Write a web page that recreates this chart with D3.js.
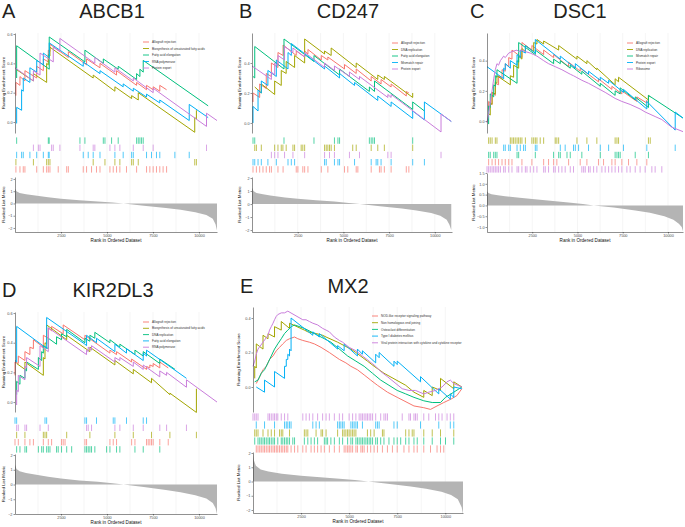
<!DOCTYPE html>
<html>
<head>
<meta charset="utf-8">
<script src="https://cdn.jsdelivr.net/npm/d3@7"></script>
<style>
  body { margin: 0; background: #fff; }
  svg { display: block; }
</style>
</head>
<body>
<div id="main"></div>
<script>
/*********************************************************
 * Data
 *********************************************************/

const setColors = ['#F8766D', '#A3A500', '#00BF7D', '#00B0F6', '#C97DDB'];
const xTickValues = [2500, 5000, 7500, 10000];

// ---------- A: ABCB1 ----------
const setsABCB1 = ['Allograft rejection', 'Biosynthesis of unsaturated fatty acids', 'Fatty acid elongation', 'RNA polymerase', 'Protein export'];
const esABCB1 = [
  [[50,0.18],[50,0.27],[270,0.25],[270,0.31],[540,0.28],[540,0.35],[1180,0.30],[1180,0.38],[1540,0.35],[1540,0.43],[1810,0.41],[1810,0.49],[1900,0.48],[1900,0.53],[2900,0.44],[2900,0.48],[3890,0.39],[3890,0.43],[4620,0.37],[4620,0.40],[5520,0.32],[5520,0.35],[6610,0.25],[6610,0.27],[7150,0.22],[7150,0.25],[7510,0.22],[7510,0.24],[7870,0.21],[7870,0.25],[8240,0.22]],
  [[50,0.36],[1000,0.28],[1000,0.33],[1720,0.27],[1720,0.40],[1810,0.39],[1810,0.46],[1900,0.45],[1900,0.51],[4250,0.30],[4250,0.32],[5430,0.21],[5430,0.24],[6340,0.16],[6340,0.18],[6700,0.15],[6700,0.20],[9770,-0.07],[9770,0.03],[9860,0.02],[9860,0.08]],
  [[90,0.30],[90,0.52],[1860,0.36],[1860,0.58],[3800,0.41],[3800,0.49],[4800,0.40],[4800,0.43],[5610,0.36],[5610,0.38],[6610,0.29],[6610,0.33],[6790,0.31],[6790,0.36],[6970,0.34],[6970,0.42],[10500,0.11]],
  [[90,-0.01],[90,0.10],[360,0.08],[360,0.22],[450,0.21],[450,0.30],[810,0.27],[810,0.37],[1180,0.34],[1180,0.42],[1540,0.39],[1540,0.47],[1860,0.44],[1860,0.54],[3710,0.38],[3710,0.41],[4620,0.33],[4620,0.35],[5880,0.24],[5880,0.26],[6430,0.21],[6430,0.23],[7150,0.17],[7150,0.19],[7870,0.13],[7870,0.15],[9470,0.01],[9470,0.12],[10500,0.03]],
  [[0,0.37],[1000,0.28],[1000,0.35],[1360,0.32],[1360,0.47],[2080,0.41],[2080,0.51],[2440,0.48],[2440,0.57],[4340,0.40],[4340,0.44],[5430,0.34],[5430,0.37],[6430,0.28],[6430,0.30],[7510,0.20],[7510,0.23],[10410,-0.03],[10410,0.06],[10980,0.01]]
];
const hitsABCB1 = [
  [50,270,450,540,1180,1540,1720,1810,1900,2350,2810,2900,3710,3890,4160,4430,4620,5160,5340,5520,5700,6060,6610,7150,7330,7510,7690,7870,8050,8240],
  [50,1000,1720,1810,1900,4250,4890,5430,5700,6340,6430,6700,9770,9860],
  [90,1810,1860,3530,3800,4800,4890,5250,5610,6610,6700,6790,6880,6970],
  [90,360,450,810,1180,1540,1810,1860,3710,3980,4250,4620,5430,5880,6340,6430,7150,7420,7690,7870,8690,9470],
  [1000,1270,1360,1990,2080,2440,3530,4250,4340,5160,5430,5700,6430,6970,7510,10410]
];
const rowsABCB1 = [2, 4, 3, 1, 0];
const metricABCB1 = [[0,1.2],[80,1.0],[250,0.85],[600,0.75],[1000,0.68],[1800,0.5],[2500,0.38],[3500,0.27],[4500,0.17],[5300,0.08],[5900,0],[7000,-0.18],[8200,-0.38],[9000,-0.52],[9800,-0.72],[10400,-0.95],[10750,-1.25],[10900,-1.7],[10980,-2.2]];

// ---------- B: CD247 ----------
const setsCD247 = ['Allograft rejection', 'DNA replication', 'Fatty acid elongation', 'Mismatch repair', 'Protein export'];
const esCD247 = [
  [[55,0.14],[55,0.20],[420,0.17],[420,0.26],[780,0.23],[780,0.33],[1060,0.31],[1060,0.40],[1420,0.37],[1420,0.47],[1700,0.45],[1700,0.52],[2420,0.45],[2420,0.48],[2880,0.44],[2880,0.48],[3060,0.46],[3060,0.49],[3790,0.42],[3790,0.45],[4150,0.42],[4150,0.44],[5060,0.36],[5060,0.39],[5700,0.33],[5700,0.36],[6520,0.28],[6520,0.31],[7060,0.26],[7060,0.29],[7610,0.24],[7610,0.26],[8440,0.18],[8440,0.21],[8580,0.20]],
  [[150,0.24],[510,0.20],[510,0.26],[1240,0.19],[1240,0.28],[1600,0.25],[1600,0.35],[1870,0.33],[1870,0.41],[2330,0.37],[2330,0.45],[2880,0.40],[2880,0.56],[3970,0.46],[3970,0.48],[4330,0.45],[4330,0.50],[5700,0.37],[5700,0.40],[6880,0.29],[6880,0.32],[7240,0.29],[7240,0.31],[8790,0.17],[8790,0.20]],
  [[55,0.31],[150,0.30],[150,0.51],[1750,0.36],[1750,0.56],[3390,0.41],[3390,0.45],[4790,0.32],[4790,0.36],[6420,0.21],[6420,0.24],[6700,0.21],[6700,0.28],[8790,0.09],[8790,0.14],[9430,0.08]],
  [[55,0.0],[55,0.11],[330,0.08],[330,0.22],[510,0.20],[510,0.28],[870,0.25],[870,0.35],[1330,0.31],[1330,0.42],[1970,0.36],[1970,0.47],[2150,0.45],[2150,0.53],[3970,0.36],[3970,0.38],[4790,0.30],[4790,0.33],[5610,0.25],[5610,0.27],[6880,0.15],[6880,0.18],[7610,0.11],[7610,0.14],[8790,0.03],[8790,0.08],[9430,0.02],[9430,0.14],[10900,0.01]],
  [[0,0.38],[1060,0.29],[1060,0.34],[1240,0.32],[1240,0.40],[1420,0.38],[1420,0.45],[1780,0.42],[1780,0.51],[2240,0.47],[2240,0.50],[2880,0.44],[2880,0.47],[3970,0.37],[3970,0.40],[4510,0.35],[4510,0.38],[5330,0.31],[5330,0.34],[5880,0.29],[5880,0.31],[7430,0.17],[7430,0.19],[7610,0.17],[7610,0.19],[10340,-0.06],[10340,0.06],[10900,0.01]]
];
const hitsCD247 = [
  [55,240,420,600,780,960,1060,1420,1700,2420,2510,2780,2880,3060,3790,4150,5060,5240,5700,5790,6520,6970,7060,7240,7610,8440,8580],
  [150,240,510,1240,1420,1600,1690,1870,2240,2330,2690,2780,2880,3970,4060,4150,4240,4330,4510,5510,5700,6520,6880,7240,8790],
  [55,150,1750,3390,4510,4700,4790,6420,6520,6610,6700,8790],
  [55,150,330,510,870,1330,1970,2150,2330,3970,4060,4510,4700,4790,5610,6520,6790,6880,7060,7610,8790,9430],
  [1060,1240,1420,1780,2240,2880,3970,4240,4510,5330,5880,7430,7610,10340]
];
const rowsCD247 = [2, 1, 4, 3, 0];
const metricCD247 = [[0,1.25],[80,1.0],[250,0.85],[600,0.75],[1000,0.66],[1800,0.5],[2500,0.4],[3500,0.3],[4500,0.19],[5300,0.08],[5900,0],[7000,-0.16],[8200,-0.35],[9000,-0.5],[9800,-0.68],[10300,-0.9],[10650,-1.2],[10800,-1.6],[10900,-2.0]];

// ---------- C: DSC1 ----------
const setsDSC1 = ['Allograft rejection', 'DNA replication', 'Mismatch repair', 'Protein export', 'Ribosome'];
const esDSC1 = [
  [[90,0.07],[90,0.13],[280,0.11],[280,0.19],[460,0.17],[460,0.25],[640,0.24],[640,0.30],[830,0.28],[830,0.34],[1010,0.33],[1010,0.38],[1200,0.36],[1200,0.42],[1380,0.41],[1380,0.47],[1930,0.42],[1930,0.52],[2480,0.47],[2480,0.50],[3130,0.44],[3130,0.47],[3680,0.42],[3680,0.44],[4510,0.36],[4510,0.39],[5150,0.33],[5150,0.35],[6160,0.26],[6160,0.28],[6900,0.21],[6900,0.23],[7450,0.18],[7450,0.20],[8280,0.13],[8280,0.16],[8830,0.12],[8830,0.14]],
  [[90,0.05],[180,0.04],[180,0.12],[280,0.11],[280,0.19],[460,0.18],[460,0.26],[550,0.25],[550,0.30],[1290,0.24],[1290,0.30],[1470,0.29],[1470,0.37],[1750,0.35],[1750,0.43],[1930,0.41],[1930,0.48],[2120,0.46],[2120,0.50],[2580,0.46],[2580,0.52],[2760,0.51],[2760,0.54],[3130,0.51],[3130,0.53],[3960,0.47],[3960,0.50],[4970,0.41],[4970,0.43],[5520,0.38],[5520,0.40],[6070,0.34],[6070,0.35],[7080,0.24],[7080,0.28],[7270,0.26],[7270,0.29],[8920,0.14],[8920,0.17],[9020,0.16]],
  [[90,-0.02],[90,0.10],[180,0.09],[180,0.18],[370,0.16],[370,0.24],[460,0.23],[460,0.30],[550,0.29],[550,0.34],[1660,0.25],[1660,0.40],[1750,0.39],[1750,0.52],[2670,0.44],[2670,0.47],[3680,0.38],[3680,0.41],[4050,0.38],[4050,0.40],[4600,0.35],[4600,0.37],[5240,0.31],[5240,0.33],[6260,0.23],[6260,0.25],[7080,0.17],[7080,0.20],[7360,0.18],[7360,0.22],[8190,0.14],[8190,0.16],[8920,0.09],[8920,0.17],[10830,0.02]],
  [[0,0.36],[920,0.28],[920,0.35],[1010,0.34],[1010,0.38],[1290,0.35],[1290,0.40],[1660,0.37],[1660,0.44],[1840,0.42],[1840,0.47],[2120,0.45],[2120,0.50],[2670,0.45],[2670,0.54],[4050,0.41],[4050,0.43],[4880,0.35],[4880,0.38],[5610,0.31],[5610,0.33],[6260,0.27],[6260,0.29],[6720,0.25],[6720,0.27],[7540,0.19],[7540,0.21],[8830,0.08],[8830,0.13],[10400,-0.06],[10400,0.06],[10830,0.02]],
  [[0,-0.01],[90,0.05],[180,0.12],[280,0.20],[370,0.28],[460,0.34],[550,0.38],[640,0.37],[740,0.40],[920,0.43],[1010,0.42],[1200,0.45],[1380,0.46],[1660,0.47],[1750,0.46],[1930,0.47],[2120,0.46],[2390,0.45],[2580,0.44],[2760,0.43],[3130,0.40],[3400,0.38],[3770,0.36],[4140,0.34],[4600,0.31],[4780,0.30],[5240,0.27],[5610,0.25],[6070,0.22],[6530,0.19],[7080,0.15],[7450,0.13],[7910,0.11],[8460,0.08],[8740,0.06],[9290,0.03],[9660,0.01],[10200,-0.04],[10830,-0.07]]
];
const hitsDSC1 = [
  [90,280,460,640,830,1010,1200,1380,1930,2480,3130,3400,3680,3860,4510,5150,5520,6160,6440,6900,7080,7450,7820,8280,8830],
  [90,180,280,460,550,1290,1380,1470,1560,1660,1750,1840,1930,2120,2480,2580,2670,2760,2940,3130,3770,3860,3960,4970,5520,6070,7080,7180,7270,8920,9020],
  [90,180,370,460,550,1660,1750,2670,3680,3960,4050,4420,4600,5240,6260,7080,7180,7270,7360,8190,8920],
  [920,1010,1200,1290,1660,1840,2020,2120,2670,2760,4050,4320,4780,4880,5060,5610,6260,6720,7540,8830,10400],
  [0,90,180,280,370,460,550,640,740,920,1010,1200,1380,1660,1750,1930,2120,2210,2390,2580,2760,3130,3220,3400,3680,3770,3960,4140,4320,4600,4780,5240,5340,5430,5610,5700,5890,6070,6350,6530,6720,6900,7080,7270,7450,7730,7910,8190,8460,8740,9110,9290,9660]
];
const rowsDSC1 = [1, 3, 2, 0, 4];
const metricDSC1 = [[0,0.65],[80,0.58],[250,0.52],[600,0.47],[1000,0.43],[1800,0.36],[2500,0.3],[3500,0.22],[4500,0.14],[5300,0.06],[5900,0],[7000,-0.1],[8200,-0.24],[9000,-0.34],[9800,-0.5],[10300,-0.66],[10600,-0.85],[10760,-1.0],[10830,-1.2]];

// ---------- D: KIR2DL3 ----------
const setsKIR2DL3 = ['Allograft rejection', 'Biosynthesis of unsaturated fatty acids', 'DNA replication', 'Fatty acid elongation', 'RNA polymerase'];
const esKIR2DL3 = [
  [[0,0.18],[0,0.27],[180,0.26],[180,0.31],[540,0.28],[540,0.34],[810,0.32],[810,0.37],[1000,0.36],[1000,0.42],[1540,0.37],[1540,0.45],[1810,0.43],[1810,0.50],[1990,0.48],[1990,0.51],[2620,0.46],[2620,0.52],[3800,0.42],[3800,0.45],[5160,0.33],[5160,0.35],[5520,0.32],[5520,0.34],[6340,0.27],[6340,0.29],[7150,0.22],[7150,0.24],[7330,0.23],[7330,0.25],[7510,0.24],[7510,0.26],[7870,0.23],[7870,0.27],[8330,0.23]],
  [[90,0.26],[540,0.22],[540,0.27],[1540,0.18],[1540,0.30],[1630,0.29],[1630,0.40],[1720,0.39],[1720,0.52],[2810,0.42],[2810,0.45],[4070,0.34],[4070,0.37],[5430,0.25],[5430,0.28],[6430,0.19],[6430,0.22],[7420,0.13],[7420,0.16],[8420,0.05],[8420,0.06],[9860,-0.07],[9860,0.09]],
  [[90,0.05],[90,0.14],[270,0.12],[270,0.18],[540,0.16],[540,0.22],[630,0.21],[630,0.27],[1270,0.22],[1270,0.30],[1450,0.28],[1450,0.34],[1540,0.33],[1540,0.38],[1810,0.36],[1810,0.43],[2260,0.39],[2260,0.44],[2530,0.42],[2530,0.46],[2810,0.44],[2810,0.49],[3800,0.40],[3800,0.43],[4070,0.41],[4070,0.45],[4340,0.43],[4340,0.47],[5160,0.40],[5160,0.42],[5700,0.37],[5700,0.39],[6520,0.32],[6520,0.35],[6970,0.31],[6970,0.34],[7870,0.26],[7870,0.29],[8700,0.22]],
  [[0,0.28],[90,0.27],[90,0.51],[1630,0.37],[1720,0.36],[1720,0.57],[3800,0.39],[3890,0.38],[3890,0.45],[4430,0.40],[4430,0.43],[5430,0.34],[5430,0.39],[6060,0.33],[6060,0.36],[6970,0.28],[6970,0.33],[7150,0.31],[7150,0.35],[9320,0.16]],
  [[90,-0.02],[90,0.08],[180,0.07],[180,0.18],[540,0.15],[540,0.24],[630,0.23],[630,0.30],[1360,0.24],[1360,0.38],[1810,0.34],[1810,0.50],[3890,0.32],[3890,0.35],[3980,0.34],[3980,0.37],[4160,0.35],[4160,0.38],[5430,0.27],[5430,0.30],[5700,0.28],[5700,0.30],[6430,0.24],[6430,0.27],[6970,0.22],[6970,0.25],[7870,0.17],[7870,0.21],[8240,0.18],[8240,0.20],[9320,0.10],[9320,0.15],[10980,0.0]]
];
const hitsKIR2DL3 = [
  [0,180,540,810,1000,1540,1810,1990,2530,2620,2720,3800,3890,5160,5340,5520,6340,6520,7150,7240,7330,7420,7510,7870,8330],
  [90,540,1540,1630,1720,2810,4070,5430,6430,7420,8420,9860],
  [90,270,540,630,1270,1450,1540,1720,1810,1900,2260,2350,2530,2810,3080,3800,3890,3980,4070,4160,4340,4980,5160,5520,5700,6520,6970,7870],
  [0,90,1630,1720,3800,3890,4430,5340,5430,6060,6970,7150],
  [90,180,540,630,1360,1810,3890,3980,4160,5430,5700,6430,6970,7870,8240,9320]
];
const rowsKIR2DL3 = [3, 4, 1, 0, 2];
const metricKIR2DL3 = [[0,1.35],[80,1.05],[250,0.9],[600,0.78],[1000,0.7],[1800,0.52],[2500,0.4],[3500,0.28],[4500,0.18],[5300,0.08],[5900,0],[7000,-0.17],[8200,-0.37],[9000,-0.52],[9800,-0.72],[10400,-0.95],[10750,-1.25],[10900,-1.6],[10980,-2.0]];

// ---------- E: MX2 ----------
const setsMX2 = ['NOD-like receptor signaling pathway', 'Non homologous end joining', 'Osteoclast differentiation', 'Type I diabetes mellitus', 'Viral protein interaction with cytokine and cytokine receptor'];
const esMX2 = [
  [[170,0.02],[350,0.06],[520,0.10],[690,0.12],[860,0.16],[1040,0.18],[1210,0.21],[1380,0.23],[1550,0.25],[1730,0.27],[1900,0.28],[2160,0.29],[2330,0.28],[2590,0.27],[2930,0.26],[3190,0.25],[3540,0.23],[3970,0.20],[4490,0.16],[4830,0.14],[5090,0.12],[5430,0.10],[5780,0.07],[6120,0.04],[6470,0.01],[6990,-0.03],[7500,-0.06],[7850,-0.08],[8370,-0.11],[8880,-0.12],[9230,-0.13],[9570,-0.11],[9920,-0.09],[10300,-0.07],[10600,-0.05],[10860,-0.01]],
  [[90,0.05],[90,0.12],[170,0.11],[170,0.25],[520,0.22],[520,0.30],[780,0.28],[780,0.31],[1120,0.29],[1120,0.35],[1470,0.33],[1470,0.38],[1900,0.34],[1900,0.37],[2670,0.33],[2850,0.32],[3280,0.31],[3620,0.30],[3800,0.29],[4400,0.26],[4740,0.24],[5090,0.22],[5350,0.20],[5950,0.15],[6300,0.12],[6810,0.08],[7940,0.01],[8370,-0.03],[8880,-0.06],[8880,-0.02],[9320,-0.05],[9320,0.0],[9750,-0.02],[9750,0.05],[10440,-0.01],[10440,0.03],[10860,0.0]],
  [[90,0.03],[260,0.04],[430,0.08],[600,0.10],[780,0.14],[950,0.18],[1120,0.22],[1290,0.25],[1470,0.28],[1640,0.31],[1810,0.33],[1990,0.35],[2160,0.36],[2670,0.34],[3020,0.32],[3360,0.30],[3710,0.28],[4050,0.26],[4490,0.22],[4920,0.18],[5350,0.15],[5780,0.12],[6210,0.08],[6640,0.04],[7070,0.01],[7500,-0.02],[7940,-0.04],[8370,-0.06],[8880,-0.08],[9320,-0.09],[9750,-0.09],[10010,-0.06],[10440,-0.03],[10860,0.0]],
  [[170,0.0],[600,-0.03],[600,0.04],[1120,0.0],[1120,0.09],[1640,0.05],[1640,0.12],[1730,0.12],[1730,0.16],[1810,0.16],[1810,0.19],[1900,0.18],[1900,0.22],[1980,0.21],[1980,0.40],[3110,0.30],[3110,0.32],[3450,0.29],[3450,0.31],[4400,0.22],[4400,0.24],[4740,0.21],[4740,0.25],[5430,0.18],[5430,0.22],[5690,0.19],[5690,0.21],[6380,0.14],[6380,0.19],[6560,0.17],[6560,0.20],[7330,0.12],[7330,0.15],[7500,0.13],[7500,0.15],[8710,0.03],[8710,0.06],[9660,-0.04],[9660,-0.01],[10260,-0.07],[10260,-0.04],[10440,-0.06],[10440,0.0],[10860,-0.01]],
  [[0,0.12],[90,0.15],[170,0.19],[260,0.22],[780,0.30],[860,0.33],[950,0.35],[1040,0.37],[1120,0.39],[1210,0.41],[1290,0.42],[1470,0.43],[1640,0.43],[1810,0.44],[2590,0.39],[2760,0.39],[2930,0.38],[3110,0.37],[3360,0.36],[3620,0.34],[3800,0.33],[3970,0.32],[4230,0.29],[4490,0.27],[4660,0.26],[5000,0.23],[5350,0.21],[5690,0.18],[6040,0.15],[6380,0.12],[6640,0.09],[6990,0.06],[7760,-0.01],[8110,-0.02],[8450,-0.02],[8880,-0.04],[9140,-0.03],[9490,-0.02],[9830,0.0],[10090,0.03],[10260,0.04],[10440,0.02],[10860,0.0]]
];
const hitsMX2 = [
  [170,260,350,430,520,600,690,780,860,950,1040,1120,1210,1290,1380,1470,1550,1640,1730,1810,1980,2160,2330,2590,2760,3020,3190,3360,3540,3710,3970,4230,4490,4740,4830,4920,5000,5090,5180,5350,5430,5610,5690,5780,5950,6120,6300,6470,6730,6990,7250,7500,7850,8110,8370,8540,8880,9230,9570,9750,9920],
  [90,170,260,520,780,950,1120,1380,1470,1550,1900,2670,2760,2850,3280,3540,3620,3800,4400,4660,4740,4830,4920,5000,5090,5180,5260,5350,5950,6120,6300,6730,6810,7940,8110,8280,8370,8880,9320,9750,10440],
  [90,260,350,430,520,600,690,780,860,950,1040,1120,1290,1470,1550,1640,1730,1810,1900,2070,2160,2670,2850,3020,3190,3360,3710,3800,3880,4050,4230,4490,4660,4920,5090,5180,5350,5430,5520,5610,5690,5780,5870,5950,6040,6120,6210,6380,6470,6640,6810,7070,7330,7500,7680,7940,8110,8370,8540,8880,9320,9750,10010,10440],
  [170,600,1120,1640,1730,1810,1900,1980,3110,3280,3450,4400,4490,4570,4660,4740,5090,5180,5260,5350,5430,5690,6380,6470,6560,7330,7500,8710,9660,10260,10440],
  [0,90,170,260,780,860,950,1040,1120,1210,1290,1470,1640,1810,2590,2760,2930,3110,3360,3620,3800,3970,4230,4490,4660,5000,5180,5350,5520,5610,5690,5780,5870,5950,6040,6120,6210,6380,6640,6810,6900,6990,7760,8110,8190,8370,8450,8540,8880,9140,9490,9660,9830,10090,10260,10440]
];
const rowsMX2 = [4, 3, 1, 2, 0];
const metricMX2 = [[0,2.0],[40,1.5],[150,1.1],[400,0.85],[800,0.7],[1500,0.55],[2500,0.4],[3500,0.3],[4500,0.2],[5300,0.1],[6000,0],[7000,-0.15],[8200,-0.35],[9000,-0.5],[9800,-0.72],[10300,-0.95],[10650,-1.25],[10850,-1.8],[10920,-2.3]];

/*********************************************************
 * Layout of the five panels
 *********************************************************/

const svgWidth = 685;
const svgHeight = 527;
const fontFamily = "'Liberation Sans', Arial, Helvetica, sans-serif";

const svg = d3
  .select('#main')
  .append('svg')
  .attr('width', svgWidth)
  .attr('height', svgHeight)
  .style('background', '#fff');

const panels = [
  { letter: 'A', gene: 'ABCB1', sets: setsABCB1, es: esABCB1, hits: hitsABCB1, rows: rowsABCB1, metric: metricABCB1,
    x0: 15, x1: 217, maxRank: 10980, esTop: 33, esBot: 133, esDom: [-0.075, 0.607], esTicks: [0, 0.2, 0.4, 0.6],
    bandTop: 137, bandBot: 173, rkTop: 177, rkBot: 232, rkDom: [-2.33, 2.16], rkTicks: [-2, -1, 0, 1, 2], rkFmt: 'd',
    letterX: 2, headY: 18, titleX: 112, legX: 143, legY: 42, legStep: 6.5, yTitleX: 5 },
  { letter: 'B', gene: 'CD247', sets: setsCD247, es: esCD247, hits: hitsCD247, rows: rowsCD247, metric: metricCD247,
    x0: 252, x1: 452, maxRank: 10940, esTop: 33, esBot: 133, esDom: [-0.067, 0.6], esTicks: [0, 0.2, 0.4],
    bandTop: 137, bandBot: 173, rkTop: 177, rkBot: 232, rkDom: [-2.15, 2.08], rkTicks: [-2, -1, 0, 1, 2], rkFmt: 'd',
    letterX: 239, headY: 18, titleX: 348, legX: 392, legY: 43, legStep: 6.5, yTitleX: 241 },
  { letter: 'C', gene: 'DSC1', sets: setsDSC1, es: esDSC1, hits: hitsDSC1, rows: rowsDSC1, metric: metricDSC1,
    x0: 487, x1: 683, maxRank: 10830, esTop: 33, esBot: 133, esDom: [-0.079, 0.583], esTicks: [0, 0.2, 0.4],
    bandTop: 137, bandBot: 173, rkTop: 173, rkBot: 232, rkDom: [-1.23, 1.5], rkTicks: [-1, -0.5, 0, 0.5, 1, 1.5], rkFmt: '.1f',
    letterX: 470, headY: 18, titleX: 580, legX: 627, legY: 43, legStep: 6.5, yTitleX: 475 },
  { letter: 'D', gene: 'KIR2DL3', sets: setsKIR2DL3, es: esKIR2DL3, hits: hitsKIR2DL3, rows: rowsKIR2DL3, metric: metricKIR2DL3,
    x0: 15, x1: 217, maxRank: 10980, esTop: 312, esBot: 412, esDom: [-0.067, 0.607], esTicks: [0, 0.2, 0.4, 0.6],
    bandTop: 417, bandBot: 453, rkTop: 454, rkBot: 514, rkDom: [-2.0, 2.07], rkTicks: [-2, -1, 0, 1, 2], rkFmt: 'd',
    letterX: 2, headY: 297, titleX: 113, legX: 143, legY: 322, legStep: 6.3, yTitleX: 5 },
  { letter: 'E', gene: 'MX2', sets: setsMX2, es: esMX2, hits: hitsMX2, rows: rowsMX2, metric: metricMX2,
    x0: 253, x1: 463, maxRank: 10920, esTop: 307, esBot: 412, esDom: [-0.145, 0.464], esTicks: [0, 0.2, 0.4],
    bandTop: 413, bandBot: 453, rkTop: 452, rkBot: 513, rkDom: [-2.21, 2.07], rkTicks: [-2, -1, 0, 1, 2], rkFmt: 'd',
    letterX: 240, headY: 293, titleX: 348, legX: 372, legY: 316, legStep: 6.7, yTitleX: 240 }
];

panels.forEach(drawPanel);

function styleAxis(sel) {
  sel.select('.domain').attr('stroke', '#222').attr('stroke-width', 0.5);
  sel.selectAll('.tick line').attr('stroke', '#222').attr('stroke-width', 0.5);
  sel.selectAll('.tick text').attr('fill', '#4d4d4d');
  sel.attr('font-size', 3.8).attr('font-family', fontFamily);
}

function drawPanel(p) {
  const g = svg.append('g').attr('class', 'panel');

  const x = d3.scaleLinear().domain([0, p.maxRank]).range([p.x0, p.x1]);
  const yEs = d3.scaleLinear().domain(p.esDom).range([p.esBot, p.esTop]);
  const yRk = d3.scaleLinear().domain(p.rkDom).range([p.rkBot, p.rkTop]);

  // light vertical grid (major + minor)
  const gridVals = d3.range(1250, p.maxRank, 1250);
  g.append('g')
    .selectAll('line')
    .data(gridVals)
    .join('line')
    .attr('x1', d => x(d))
    .attr('x2', d => x(d))
    .attr('y1', p.esTop)
    .attr('y2', p.rkBot)
    .attr('stroke', '#ebebeb')
    .attr('stroke-width', 0.5);

  // running enrichment score lines
  const line = d3.line().x(d => x(d[0])).y(d => yEs(d[1]));
  g.append('g')
    .selectAll('path')
    .data(p.es)
    .join('path')
    .attr('d', line)
    .attr('fill', 'none')
    .attr('stroke', (d, i) => setColors[i])
    .attr('stroke-width', 1)
    .attr('stroke-linejoin', 'round');

  // legend
  const leg = g.append('g').attr('font-family', fontFamily);
  p.sets.forEach((name, i) => {
    const ly = p.legY + i * p.legStep;
    leg.append('line')
      .attr('x1', p.legX).attr('x2', p.legX + 6)
      .attr('y1', ly).attr('y2', ly)
      .attr('stroke', setColors[i])
      .attr('stroke-width', 0.9);
    leg.append('text')
      .attr('x', p.legX + 9)
      .attr('y', ly + 1.1)
      .attr('font-size', 3.1)
      .attr('fill', '#333')
      .text(name);
  });

  // hit tick band
  const rowH = (p.bandBot - p.bandTop) / p.rows.length;
  p.rows.forEach((si, r) => {
    g.append('g')
      .selectAll('line')
      .data(p.hits[si])
      .join('line')
      .attr('x1', d => x(d))
      .attr('x2', d => x(d))
      .attr('y1', p.bandTop + r * rowH + 0.4)
      .attr('y2', p.bandTop + (r + 1) * rowH - 0.4)
      .attr('stroke', setColors[si])
      .attr('stroke-width', 0.8)
      .attr('stroke-opacity', 0.85);
  });

  // ranked list metric
  const area = d3.area()
    .x(d => x(d[0]))
    .y0(yRk(0))
    .y1(d => yRk(d[1]));
  g.append('path')
    .datum(p.metric)
    .attr('d', area)
    .attr('fill', '#b4b4b4');

  // axes
  g.append('g')
    .attr('transform', `translate(${p.x0},0)`)
    .call(d3.axisLeft(yEs).tickValues(p.esTicks).tickSize(1.5).tickSizeOuter(0).tickPadding(1).tickFormat(d3.format('.1f')))
    .call(styleAxis);

  g.append('g')
    .attr('transform', `translate(${p.x0},0)`)
    .call(d3.axisLeft(yRk).tickValues(p.rkTicks).tickSize(1.5).tickSizeOuter(0).tickPadding(1).tickFormat(d3.format(p.rkFmt)))
    .call(styleAxis);

  g.append('g')
    .attr('transform', `translate(0,${p.rkBot})`)
    .call(d3.axisBottom(x).tickValues(xTickValues).tickSize(1.5).tickSizeOuter(0).tickPadding(1).tickFormat(d3.format('d')))
    .call(styleAxis);

  // axis titles
  const t = g.append('g').attr('font-family', fontFamily).attr('fill', '#111');
  t.append('text')
    .attr('transform', `translate(${p.yTitleX},${(p.esTop + p.esBot) / 2}) rotate(-90)`)
    .attr('text-anchor', 'middle')
    .attr('font-size', 4.4)
    .text('Running Enrichment Score');
  t.append('text')
    .attr('transform', `translate(${p.yTitleX},${(p.rkTop + p.rkBot) / 2}) rotate(-90)`)
    .attr('text-anchor', 'middle')
    .attr('font-size', 4.4)
    .text('Ranked List Metric');
  t.append('text')
    .attr('x', (p.x0 + p.x1) / 2)
    .attr('y', p.rkBot + 10)
    .attr('text-anchor', 'middle')
    .attr('font-size', 4.6)
    .text('Rank in Ordered Dataset');

  // panel letter + gene title
  const h = g.append('g').attr('font-family', fontFamily).attr('fill', '#231f20').attr('font-size', 20);
  h.append('text').attr('x', p.letterX).attr('y', p.headY).text(p.letter);
  h.append('text').attr('x', p.titleX).attr('y', p.headY).attr('text-anchor', 'middle').text(p.gene);
}
</script>
</body>
</html>
